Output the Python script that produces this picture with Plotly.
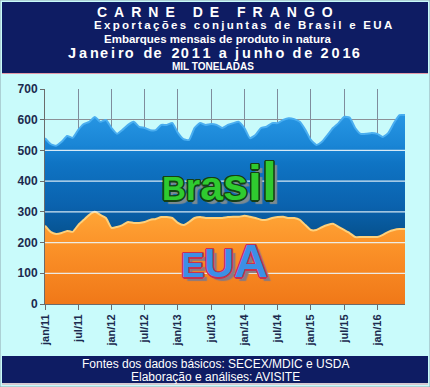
import plotly.graph_objects as go

# ---------------- data (mil toneladas) ----------------
months_pt = ["jan", "fev", "mar", "abr", "mai", "jun", "jul", "ago", "set", "out", "nov", "dez"]
categories = [f"{m}/{y}" for y in ["11", "12", "13", "14", "15", "16"] for m in months_pt][:66]

eua = [255, 235, 228, 231, 238, 235, 257, 274, 290, 300, 290, 280,
       248, 251, 257, 267, 264, 264, 267, 274, 277, 283, 283, 280,
       264, 257, 267, 280, 283, 280, 280, 280, 280, 283, 284, 284,
       287, 284, 280, 274, 274, 280, 283, 284, 280, 280, 274, 257,
       241, 241, 250, 257, 261, 251, 241, 231, 218, 218, 218, 218,
       218, 225, 235, 241, 244, 244]

brasil = [285, 286, 287, 297, 309, 306, 310, 312, 303, 309, 303, 319,
          325, 303, 310, 316, 329, 313, 306, 292, 289, 300, 300, 309,
          293, 280, 267, 293, 306, 303, 306, 303, 293, 300, 305, 309,
          286, 256, 270, 299, 303, 309, 306, 315, 325, 322, 319, 310,
          293, 277, 278, 293, 312, 338, 368, 376, 355, 336, 336, 339,
          336, 319, 322, 348, 371, 371]

tick_labels = ["jan/11", "jul/11", "jan/12", "jul/12", "jan/13", "jul/13",
               "jan/14", "jul/14", "jan/15", "jul/15", "jan/16"]
y_ticks = [0, 100, 200, 300, 400, 500, 600, 700]

# ---------------- geometry helpers (pixel -> paper) ----------------
W, H = 430, 387
ML, MR, MT, MB = 45, 25, 89, 83
PW, PH = W - ML - MR, H - MT - MB


def px(x):
    return (x - ML) / PW


def py(y):
    return (H - MB - y) / PH


NAVY = "#0E1C63"
BG = "#C9FBFB"
FONT = "Liberation Sans, Arial, sans-serif"
AXIS_TXT = "#1B2A4E"

fig = go.Figure()

fig.add_trace(go.Scatter(
    x=categories, y=eua, name="EUA", stackgroup="one", mode="lines",
    line=dict(color="#FFD07A", width=2, shape="spline", smoothing=0.5),
    fillgradient=dict(type="vertical", start=0, stop=300,
                      colorscale=[[0, "#F07818"], [0.6, "#FB9128"], [1, "#FFA536"]]),
    hoverinfo="skip",
))
fig.add_trace(go.Scatter(
    x=categories, y=brasil, name="Brasil", stackgroup="one", mode="lines",
    line=dict(color="#4AAEF0", width=2, shape="spline", smoothing=0.5),
    fillgradient=dict(type="vertical", start=220, stop=620,
                      colorscale=[[0, "#06528F"], [0.25, "#0A62AE"], [0.6, "#0F74C4"],
                                  [0.75, "#1A86D6"], [1, "#2796E4"]]),
    hoverinfo="skip",
))

shapes = []
shapes.append(dict(type="rect", xref="paper", yref="paper", layer="below",
                   x0=px(0), x1=px(W), y0=py(H), y1=py(0),
                   line=dict(color="#8FA8B0", width=1), fillcolor=BG))
shapes.append(dict(type="rect", xref="paper", yref="paper",
                   x0=px(2), x1=px(428), y0=py(73), y1=py(2),
                   line=dict(width=0), fillcolor=NAVY))
shapes.append(dict(type="line", xref="paper", yref="paper",
                   x0=px(2), x1=px(428), y0=py(73.5), y1=py(73.5),
                   line=dict(color="#E39AA8", width=1)))
shapes.append(dict(type="rect", xref="paper", yref="paper",
                   x0=px(2), x1=px(428), y0=py(383), y1=py(356),
                   line=dict(width=0), fillcolor=NAVY))
shapes.append(dict(type="line", xref="paper", yref="paper",
                   x0=px(2), x1=px(428), y0=py(384), y1=py(384),
                   line=dict(color="#E39AA8", width=1)))
for v in y_ticks[1:6]:
    shapes.append(dict(type="line", xref="paper", yref="y", layer="above",
                       x0=0, x1=1, y0=v, y1=v,
                       line=dict(color="rgba(235,245,250,0.9)", width=1.3)))

annotations = []


def txt(text, x, y, size, color="white", family=FONT, bold=True):
    annotations.append(dict(
        text=f"<b>{text}</b>" if bold else text, xref="paper", yref="paper",
        x=px(x), y=py(y), xanchor="center", yanchor="middle", showarrow=False,
        borderpad=0, font=dict(size=size, color=color, family=family)))


def spaced(s, seps):
    out = ""
    for i, c in enumerate(s):
        out += c
        if i < len(s) - 1:
            out += seps[i % len(seps)]
    return out


txt(spaced("CARNE DE FRANGO", ["\u2002"]), 215, 11.5, 14)
txt(spaced("Exportações conjuntas de Brasil e EUA", ["\u2009"]), 243, 25, 11.5)
txt("Embarques mensais de produto in natura", 217, 38.8, 11.5)
txt(spaced("Janeiro de 2011 a junho de 2016", ["\u2009", "\u2009", "\u200a"]), 214, 53, 14.5)
txt("MIL TONELADAS", 213, 66.5, 10)

txt("Fontes dos dados básicos: SECEX/MDIC e USDA", 215, 363.5, 12, bold=False)
txt("Elaboração e análises: AVISITE", 215, 377, 12, bold=False)


def wordart(word, sizes, cx, cy, fill, outline, shadow):
    body = "".join(f'<span style="font-size:{s}px">{c}</span>' for c, s in zip(word, sizes))
    o = outline
    sh = (f"-1px -1px 0 {o}, 1px -1px 0 {o}, -1px 1px 0 {o}, 1px 1px 0 {o}, "
          f"0 -1.5px 0 {o}, 0 1.5px 0 {o}, -1.5px 0 0 {o}, 1.5px 0 0 {o}, "
          f"4px 4px 1px {shadow}")
    annotations.append(dict(
        text=f"<b>{body}</b>", xref="paper", yref="paper",
        x=px(cx), y=py(cy), xanchor="center", yanchor="bottom",
        showarrow=False, font=dict(size=sizes[0], color=fill, family=FONT, shadow=sh)))


wordart("Brasil", [33, 37, 41, 45, 50, 54], 219, 213, "#2FCB2F", "#153F15", "#7D8A90")
wordart("EUA", [35, 41, 47], 224, 289, "#3D8FE6", "#C7324F", "#8A7A80")

fig.update_layout(
    width=W, height=H,
    margin=dict(l=ML, r=MR, t=MT, b=MB, pad=0),
    paper_bgcolor=BG, plot_bgcolor="#E9DFD1",
    showlegend=False,
    shapes=shapes, annotations=annotations,
    xaxis=dict(type="category", range=[0, 65], tickmode="array",
               tickvals=tick_labels, ticktext=tick_labels, tickangle=-90,
               showgrid=True, gridcolor="#7F8C9C", gridwidth=1,
               showline=True, linecolor="#6B6B6B", linewidth=1,
               ticks="outside", ticklen=5, tickcolor="#6B6B6B",
               tickfont=dict(size=11, color=AXIS_TXT, family=FONT, weight="bold"),
               zeroline=False, fixedrange=True),
    yaxis=dict(range=[0, 700], tickmode="array", tickvals=y_ticks,
               showgrid=True, gridcolor="#8C9096", gridwidth=1,
               showline=True, linecolor="#6B6B6B", linewidth=1,
               ticks="outside", ticklen=4, tickcolor="#6B6B6B",
               tickfont=dict(size=12, color=AXIS_TXT, family=FONT, weight="bold"),
               zeroline=False, fixedrange=True),
)

fig.write_html("out.html", config={"displayModeBar": False},
               post_script="document.body.style.margin='0';")
